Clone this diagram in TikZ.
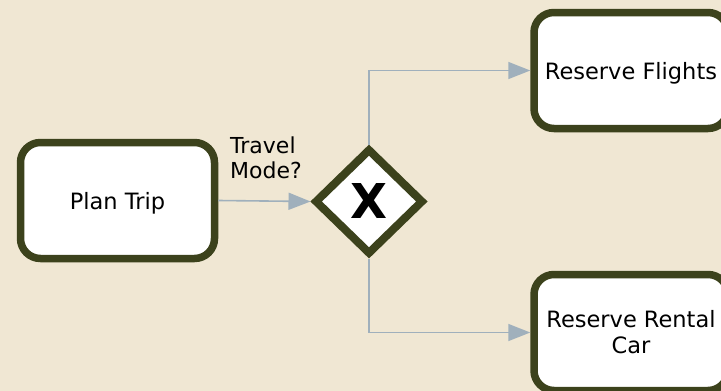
\documentclass[tikz,border=0pt]{standalone}
\usepackage{fontspec}
\setmainfont{DejaVu Sans}
\usetikzlibrary{arrows.meta,shapes.geometric}
\definecolor{paper}{RGB}{240,231,211}
\definecolor{olive}{RGB}{60,66,28}
\definecolor{conn}{RGB}{160,176,188}
\newcommand{\lowertext}[1]{\raisebox{-3pt}[\height][\depth]{#1}}
\begin{document}
\begin{tikzpicture}[x=1pt,y=-1pt,
  task/.style={draw=olive,fill=white,line width=7.5pt,rounded corners=20pt,
    minimum width=194pt,minimum height=116pt,inner sep=0pt,align=center,
    font=\fontsize{22.5}{26}\selectfont},
  gate/.style={draw=olive,fill=white,line width=8pt,diamond,aspect=1,
    minimum width=109pt,minimum height=106pt,inner sep=0pt,
    font=\fontsize{48}{48}\selectfont\bfseries},
  flow/.style={draw=conn,line width=1.6pt,-{Triangle[length=22pt,width=17pt]}},
  lbl/.style={align=left,inner sep=0pt,font=\fontsize{22}{25}\selectfont}]
\fill[paper] (0,0) rectangle (721,391);
\useasboundingbox (0,0) rectangle (721,391);
\node[task] (plan) at (117.5,200.5) {\lowertext{Plan Trip}};
\node[gate] (gw) at (369,201.5) {X};
\node[task] (flights) at (631,70.5) {\lowertext{Reserve Flights}};
\node[task] (car) at (631,332.5) {Reserve Rental\\Car};
\node[lbl,anchor=west] (mode) at (230,158) {Travel\\Mode?};
\draw[flow] (plan.east) -- (gw.west);
\draw[flow] (gw.north) |- (flights.west);
\draw[flow] (gw.south) |- (car.west);
\end{tikzpicture}
\end{document}
